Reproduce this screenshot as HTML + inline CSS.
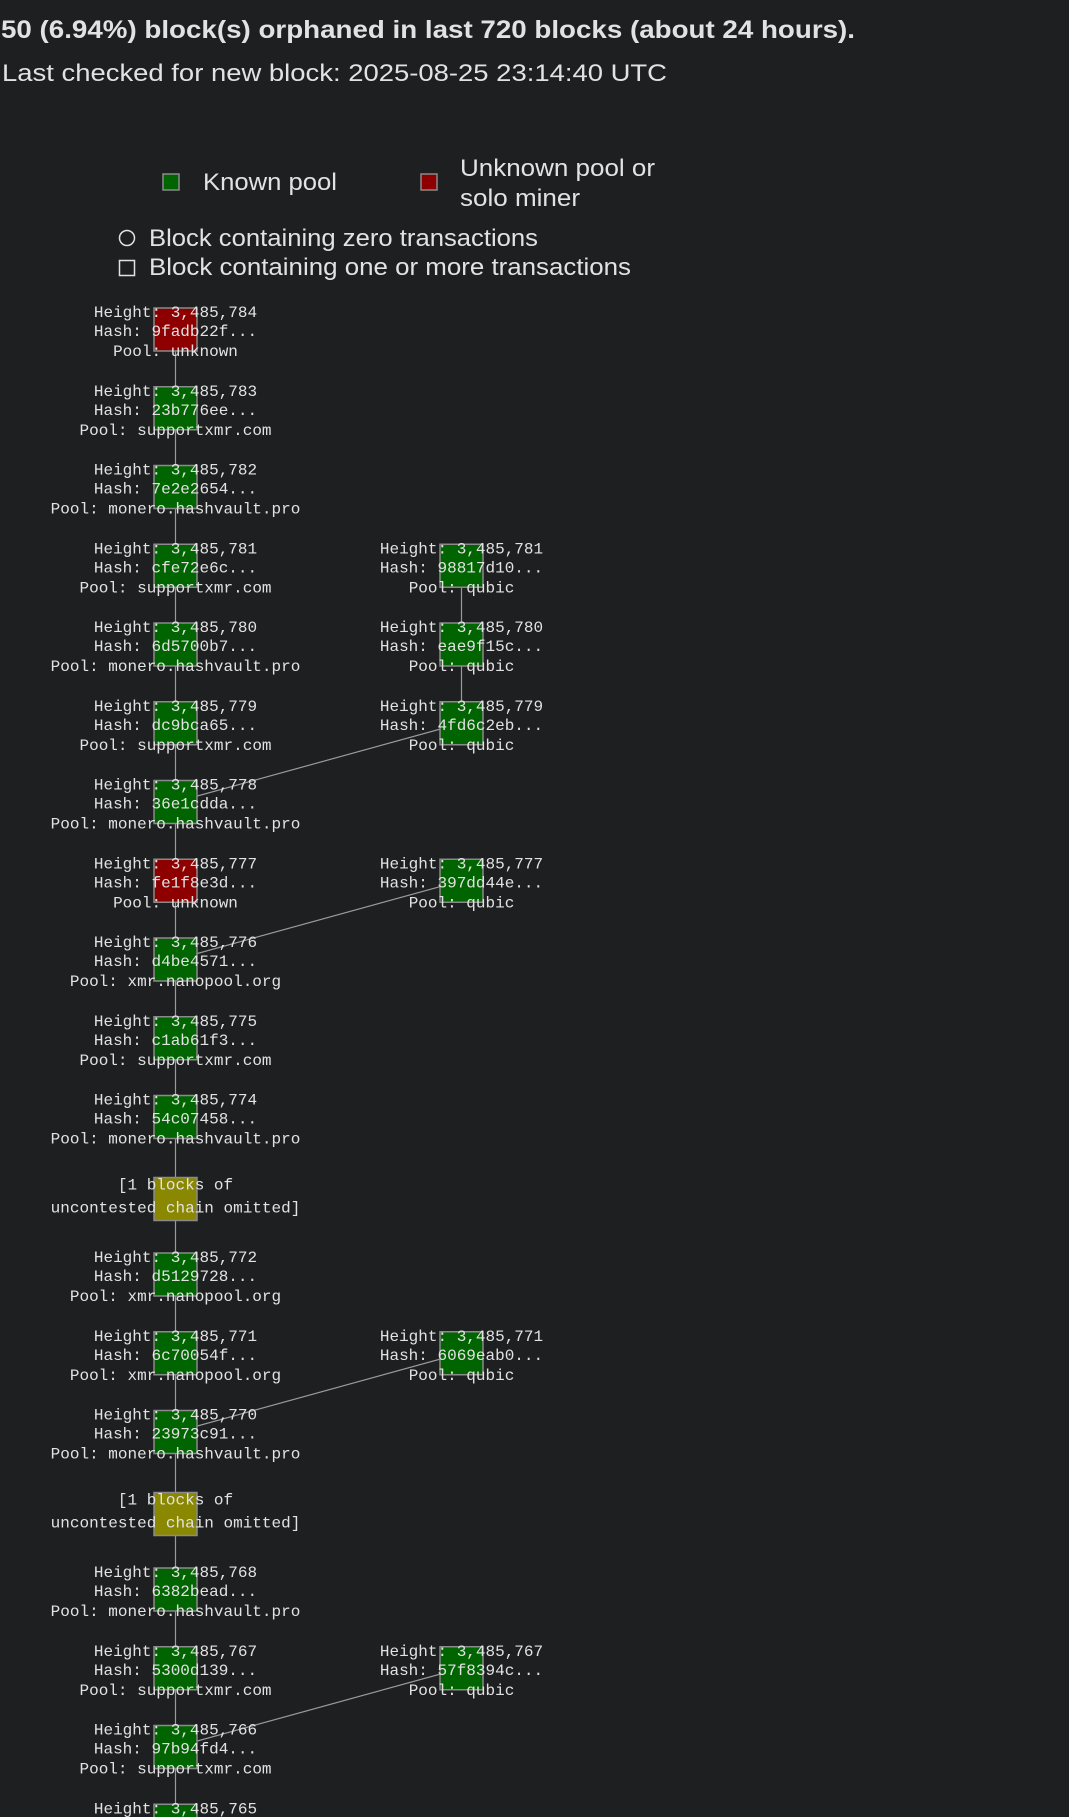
<!DOCTYPE html>
<html><head><meta charset="utf-8"><style>
html,body{margin:0;padding:0;background:#1e1f21;width:1069px;height:1817px;overflow:hidden}
svg{display:block}
.m{font-family:"Liberation Mono",monospace;font-size:16px;fill:#e2e2e2;text-anchor:middle}
.s{font-family:"Liberation Sans",sans-serif;fill:#e2e2e2}
.g{fill:#006400;stroke:#8a8a8a;stroke-width:1.5}
.r{fill:#8e0000;stroke:#8a8a8a;stroke-width:1.5}
.y{fill:#898800;stroke:#8a8a8a;stroke-width:1.5}
</style></head><body>
<svg width="1069" height="1817" viewBox="0 0 1069 1817" xmlns="http://www.w3.org/2000/svg">
<text class="s" x="1" y="38" font-size="25" font-weight="bold" textLength="854" lengthAdjust="spacingAndGlyphs">50 (6.94%) block(s) orphaned in last 720 blocks (about 24 hours).</text>
<text class="s" x="2" y="81" font-size="24" textLength="665" lengthAdjust="spacingAndGlyphs">Last checked for new block: 2025-08-25 23:14:40 UTC</text>
<rect x="163" y="174" width="16" height="16" class="g"/>
<text class="s" x="203" y="190" font-size="24" textLength="134" lengthAdjust="spacingAndGlyphs">Known pool</text>
<rect x="421" y="174" width="16" height="16" class="r"/>
<text class="s" x="460" y="176" font-size="24" textLength="195" lengthAdjust="spacingAndGlyphs">Unknown pool or</text>
<text class="s" x="460" y="206" font-size="24" textLength="120" lengthAdjust="spacingAndGlyphs">solo miner</text>
<circle cx="127" cy="238" r="7.5" fill="none" stroke="#e2e2e2" stroke-width="1.5"/>
<text class="s" x="149" y="246" font-size="24" textLength="389" lengthAdjust="spacingAndGlyphs">Block containing zero transactions</text>
<rect x="119.5" y="260.5" width="15" height="15" fill="none" stroke="#e2e2e2" stroke-width="1.5"/>
<text class="s" x="149" y="275" font-size="24" textLength="482" lengthAdjust="spacingAndGlyphs">Block containing one or more transactions</text>

<g stroke="#9a9a9a" stroke-width="1.2" fill="none">
<line x1="175.5" y1="329.5" x2="175.5" y2="1817"/>
<line x1="461.5" y1="565.75" x2="461.5" y2="723.25"/>
<line x1="461.5" y1="723.25" x2="175.5" y2="802"/>
<line x1="461.5" y1="880.75" x2="175.5" y2="959.5"/>
<line x1="461.5" y1="1353.25" x2="175.5" y2="1432"/>
<line x1="461.5" y1="1668.25" x2="175.5" y2="1747"/>
</g>

<g transform="translate(0,308)"><rect x="154" y="0" width="43" height="43" class="r"/><text class="m" x="175.5" y="9">Height: 3,485,784</text><text class="m" x="175.5" y="28">Hash: 9fadb22f...</text><text class="m" x="175.5" y="48">Pool: unknown</text></g>
<g transform="translate(0,386.75)"><rect x="154" y="0" width="43" height="43" class="g"/><text class="m" x="175.5" y="9">Height: 3,485,783</text><text class="m" x="175.5" y="28">Hash: 23b776ee...</text><text class="m" x="175.5" y="48">Pool: supportxmr.com</text></g>
<g transform="translate(0,465.5)"><rect x="154" y="0" width="43" height="43" class="g"/><text class="m" x="175.5" y="9">Height: 3,485,782</text><text class="m" x="175.5" y="28">Hash: 7e2e2654...</text><text class="m" x="175.5" y="48">Pool: monero.hashvault.pro</text></g>
<g transform="translate(0,544.25)"><rect x="154" y="0" width="43" height="43" class="g"/><text class="m" x="175.5" y="9">Height: 3,485,781</text><text class="m" x="175.5" y="28">Hash: cfe72e6c...</text><text class="m" x="175.5" y="48">Pool: supportxmr.com</text>
<rect x="440" y="0" width="43" height="43" class="g"/><text class="m" x="461.5" y="9">Height: 3,485,781</text><text class="m" x="461.5" y="28">Hash: 98817d10...</text><text class="m" x="461.5" y="48">Pool: qubic</text></g>
<g transform="translate(0,623)"><rect x="154" y="0" width="43" height="43" class="g"/><text class="m" x="175.5" y="9">Height: 3,485,780</text><text class="m" x="175.5" y="28">Hash: 6d5700b7...</text><text class="m" x="175.5" y="48">Pool: monero.hashvault.pro</text>
<rect x="440" y="0" width="43" height="43" class="g"/><text class="m" x="461.5" y="9">Height: 3,485,780</text><text class="m" x="461.5" y="28">Hash: eae9f15c...</text><text class="m" x="461.5" y="48">Pool: qubic</text></g>
<g transform="translate(0,701.75)"><rect x="154" y="0" width="43" height="43" class="g"/><text class="m" x="175.5" y="9">Height: 3,485,779</text><text class="m" x="175.5" y="28">Hash: dc9bca65...</text><text class="m" x="175.5" y="48">Pool: supportxmr.com</text>
<rect x="440" y="0" width="43" height="43" class="g"/><text class="m" x="461.5" y="9">Height: 3,485,779</text><text class="m" x="461.5" y="28">Hash: 4fd6c2eb...</text><text class="m" x="461.5" y="48">Pool: qubic</text></g>
<g transform="translate(0,780.5)"><rect x="154" y="0" width="43" height="43" class="g"/><text class="m" x="175.5" y="9">Height: 3,485,778</text><text class="m" x="175.5" y="28">Hash: 36e1cdda...</text><text class="m" x="175.5" y="48">Pool: monero.hashvault.pro</text></g>
<g transform="translate(0,859.25)"><rect x="154" y="0" width="43" height="43" class="r"/><text class="m" x="175.5" y="9">Height: 3,485,777</text><text class="m" x="175.5" y="28">Hash: fe1f8e3d...</text><text class="m" x="175.5" y="48">Pool: unknown</text>
<rect x="440" y="0" width="43" height="43" class="g"/><text class="m" x="461.5" y="9">Height: 3,485,777</text><text class="m" x="461.5" y="28">Hash: 397dd44e...</text><text class="m" x="461.5" y="48">Pool: qubic</text></g>
<g transform="translate(0,938)"><rect x="154" y="0" width="43" height="43" class="g"/><text class="m" x="175.5" y="9">Height: 3,485,776</text><text class="m" x="175.5" y="28">Hash: d4be4571...</text><text class="m" x="175.5" y="48">Pool: xmr.nanopool.org</text></g>
<g transform="translate(0,1016.75)"><rect x="154" y="0" width="43" height="43" class="g"/><text class="m" x="175.5" y="9">Height: 3,485,775</text><text class="m" x="175.5" y="28">Hash: c1ab61f3...</text><text class="m" x="175.5" y="48">Pool: supportxmr.com</text></g>
<g transform="translate(0,1095.5)"><rect x="154" y="0" width="43" height="43" class="g"/><text class="m" x="175.5" y="9">Height: 3,485,774</text><text class="m" x="175.5" y="28">Hash: 54c07458...</text><text class="m" x="175.5" y="48">Pool: monero.hashvault.pro</text></g>
<g transform="translate(0,1177.5)"><rect x="154" y="0" width="43" height="43" class="y"/><text class="m" x="175.5" y="12">[1 blocks of</text><text class="m" x="175.5" y="35">uncontested chain omitted]</text></g>
<g transform="translate(0,1253)"><rect x="154" y="0" width="43" height="43" class="g"/><text class="m" x="175.5" y="9">Height: 3,485,772</text><text class="m" x="175.5" y="28">Hash: d5129728...</text><text class="m" x="175.5" y="48">Pool: xmr.nanopool.org</text></g>
<g transform="translate(0,1331.75)"><rect x="154" y="0" width="43" height="43" class="g"/><text class="m" x="175.5" y="9">Height: 3,485,771</text><text class="m" x="175.5" y="28">Hash: 6c70054f...</text><text class="m" x="175.5" y="48">Pool: xmr.nanopool.org</text>
<rect x="440" y="0" width="43" height="43" class="g"/><text class="m" x="461.5" y="9">Height: 3,485,771</text><text class="m" x="461.5" y="28">Hash: 6069eab0...</text><text class="m" x="461.5" y="48">Pool: qubic</text></g>
<g transform="translate(0,1410.5)"><rect x="154" y="0" width="43" height="43" class="g"/><text class="m" x="175.5" y="9">Height: 3,485,770</text><text class="m" x="175.5" y="28">Hash: 23973c91...</text><text class="m" x="175.5" y="48">Pool: monero.hashvault.pro</text></g>
<g transform="translate(0,1492.5)"><rect x="154" y="0" width="43" height="43" class="y"/><text class="m" x="175.5" y="12">[1 blocks of</text><text class="m" x="175.5" y="35">uncontested chain omitted]</text></g>
<g transform="translate(0,1568)"><rect x="154" y="0" width="43" height="43" class="g"/><text class="m" x="175.5" y="9">Height: 3,485,768</text><text class="m" x="175.5" y="28">Hash: 6382bead...</text><text class="m" x="175.5" y="48">Pool: monero.hashvault.pro</text></g>
<g transform="translate(0,1646.75)"><rect x="154" y="0" width="43" height="43" class="g"/><text class="m" x="175.5" y="9">Height: 3,485,767</text><text class="m" x="175.5" y="28">Hash: 5300d139...</text><text class="m" x="175.5" y="48">Pool: supportxmr.com</text>
<rect x="440" y="0" width="43" height="43" class="g"/><text class="m" x="461.5" y="9">Height: 3,485,767</text><text class="m" x="461.5" y="28">Hash: 57f8394c...</text><text class="m" x="461.5" y="48">Pool: qubic</text></g>
<g transform="translate(0,1725.5)"><rect x="154" y="0" width="43" height="43" class="g"/><text class="m" x="175.5" y="9">Height: 3,485,766</text><text class="m" x="175.5" y="28">Hash: 97b94fd4...</text><text class="m" x="175.5" y="48">Pool: supportxmr.com</text></g>
<g transform="translate(0,1804.25)"><rect x="154" y="0" width="43" height="43" class="g"/><text class="m" x="175.5" y="9">Height: 3,485,765</text></g>
</svg>
</body></html>
